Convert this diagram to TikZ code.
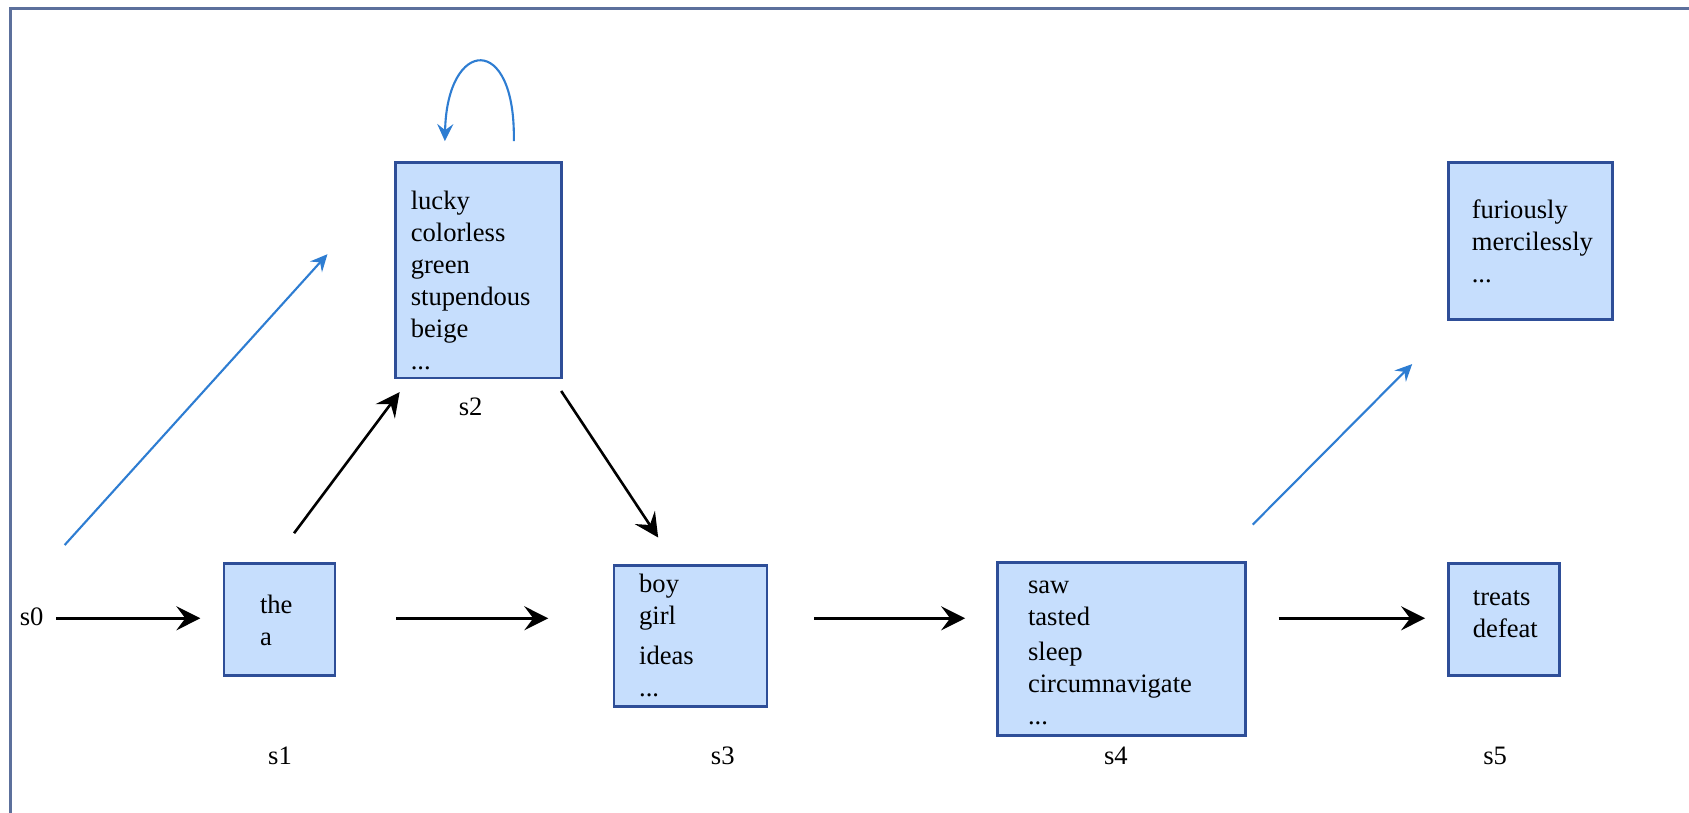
\documentclass[tikz,border=0pt]{standalone}
\usepackage{fontspec}
\setmainfont{Liberation Serif}
\usetikzlibrary{arrows.meta}
\definecolor{boxfill}{RGB}{198,222,253}
\definecolor{boxline}{RGB}{46,78,152}
\definecolor{flowblue}{RGB}{46,125,210}
\definecolor{framecol}{RGB}{92,112,156}
\tikzset{
  box/.style={draw=boxline, fill=boxfill, line width=1.4pt, inner sep=0pt},
  words/.style={anchor=base west, inner sep=0pt, align=left, font=\fontsize{13.3}{16}\selectfont},
  lbl/.style={anchor=base, inner sep=0pt, font=\fontsize{13.3}{16}\selectfont},
  blk/.style={draw=black, line width=1.3pt, -{Stealth[length=12pt, width=12pt, inset=4.5pt]}},
  blu/.style={draw=flowblue, line width=1.05pt, -{Stealth[length=8.5pt, width=8pt, inset=3pt]}},
}
\begin{document}
\begin{tikzpicture}[x=0.5386pt, y=-0.5386pt]
\useasboundingbox (0,0) rectangle (1568,754);
\fill[white] (0,0) rectangle (1568,754);
% frame
\draw[framecol, line width=1.3pt] (10,760) -- (10,8) -- (1575,8);

% boxes
\node[box, minimum width=55.5pt, minimum height=56pt] (s1) at (259.5,575) {};
\node[box, minimum width=76.5pt, minimum height=70.6pt] (s3) at (641,590.5) {};
\node[box, minimum width=123.9pt, minimum height=86.7pt] (s4) at (1041,602.5) {};
\node[box, minimum width=55.5pt, minimum height=56pt] (s5) at (1396.5,575) {};
\node[box, minimum width=82.9pt, minimum height=107.7pt] (s2) at (444,251) {};
\node[box, minimum width=81.9pt, minimum height=78.6pt] (s6) at (1421,224) {};

% texts (anchored at the baseline of the last line)
\node[words] (t1) at (241,599) {the\\a};
\node[words] (t3) at (593,647) {boy\\girl\\[4.4pt]ideas\\...};
\node[words] (t4) at (954,673) {saw\\tasted\\[1.8pt]sleep\\circumnavigate\\...};
\node[words] (t5) at (1367,592) {treats\\defeat};
\node[words] (t2) at (381,343) {lucky\\colorless\\green\\stupendous\\beige\\...};
\node[words] (t6) at (1366,262) {furiously\\mercilessly\\...};

% labels
\node[anchor=base west, inner sep=0pt, font=\fontsize{13.3}{16}\selectfont] (l0) at (18,581) {s0};
\node[lbl] (l1) at (260,710) {s1};
\node[lbl] (l2) at (437,386) {s2};
\node[lbl] (l3) at (671,710) {s3};
\node[lbl] (l4) at (1036,710) {s4};
\node[lbl] (l5) at (1388,710) {s5};

% connector end points
\coordinate (a01) at (52,574);   \coordinate (a02) at (186,574);
\coordinate (a11) at (368,574);  \coordinate (a12) at (509,574);
\coordinate (a31) at (756,574);  \coordinate (a32) at (896,574);
\coordinate (a41) at (1187,574); \coordinate (a42) at (1323,574);
\coordinate (b11) at (273,495);  \coordinate (b12) at (371,364);
\coordinate (b21) at (521,363);  \coordinate (b22) at (611,499);
\coordinate (c01) at (60,506);   \coordinate (c02) at (304,236);
\coordinate (c41) at (1163,487); \coordinate (c42) at (1311,338);
\coordinate (lp1) at (477,131);  \coordinate (lp2) at (413,131);

\draw[blk] (a01) -- (a02);
\draw[blk] (a11) -- (a12);
\draw[blk] (a31) -- (a32);
\draw[blk] (a41) -- (a42);
\draw[blk] (b11) -- (b12);
\draw[blk] (b21) -- (b22);
\draw[blu] (c01) -- (c02);
\draw[blu] (c41) -- (c42);
\draw[blu] (lp1) .. controls (479,30) and (415,35) .. (lp2);
\end{tikzpicture}
\end{document}
